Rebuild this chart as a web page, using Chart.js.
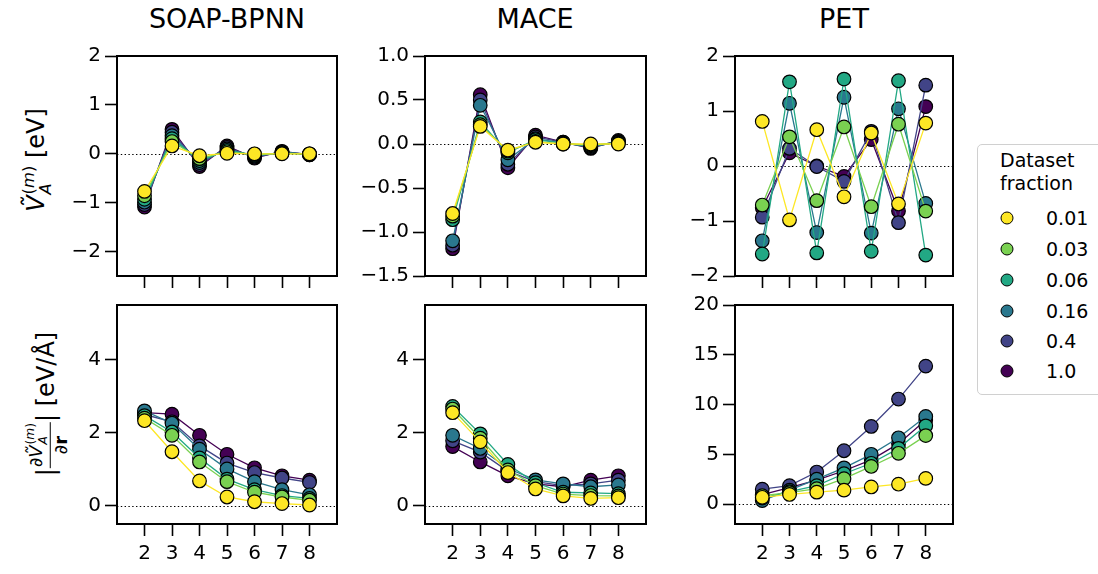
<!DOCTYPE html>
<html>
<head>
<meta charset="utf-8">
<script src="https://cdn.jsdelivr.net/npm/chart.js@4/dist/chart.umd.min.js"></script>
<style>
  body { margin: 0; background: #fff; width: 1098px; height: 574px; position: relative; overflow: hidden;
         font-family: "DejaVu Sans", sans-serif; color: #000; }
  canvas { position: absolute; }
  .title { position: absolute; top: 3px; font-size: 27px; transform: translateX(-50%); white-space: nowrap; }
  .ylab { position: absolute; transform: translate(-50%, -50%) rotate(-90deg); white-space: nowrap; font-size: 24px; }
  .ss { display: inline-flex; flex-direction: column; font-size: 0.68em; line-height: 1.05; vertical-align: middle; margin-left: 1px; }
  .frac { display: inline-flex; flex-direction: column; align-items: center; font-size: 0.75em; vertical-align: middle; line-height: 1.1; }
  .frac .num { border-bottom: 1.4px solid #000; padding: 0 1px; }
  .legend { position: absolute; left: 977px; top: 144px; width: 150px; height: 251px; border: 1.5px solid #d0d0d0;
            border-radius: 5px; box-sizing: border-box; }
  .legtitle { position: absolute; left: 1000px; top: 149px; font-size: 19px; line-height: 23px; }
  .legitem { position: absolute; left: 1046px; font-size: 19px; transform: translateY(-50%); }
  .legdot { position: absolute; width: 13px; height: 13px; border-radius: 50%; border: 1.3px solid #000; box-sizing: border-box;
            transform: translate(-50%, -50%); }
</style>
</head>
<body>

<div class="title" style="left:227px">SOAP-BPNN</div>
<div class="title" style="left:535px">MACE</div>
<div class="title" style="left:844px">PET</div>

<div class="ylab" style="left:37px; top:160px"><i>Ṽ</i><span class="ss"><span>(<i>m</i>)</span><span><i>A</i></span></span> [eV]</div>
<div class="ylab" style="left:47px; top:404px">|<span class="frac"><span class="num">∂<i>Ṽ</i><span class="ss"><span>(<i>m</i>)</span><span><i>A</i></span></span></span><span>∂<b>r</b></span></span>| [eV/Å]</div>

<div class="legend"></div>
<div class="legtitle">Dataset<br>fraction</div>
<div id="legendItems"></div>

<script>
// x positions: step index m
const steps = [2, 3, 4, 5, 6, 7, 8];
const fractions = ['0.01', '0.03', '0.06', '0.16', '0.4', '1.0'];
const colors = ['#fde725', '#7ad151', '#22a884', '#2a788e', '#414487', '#440154'];

// energies, one row per dataset fraction (same order as fractions)
const soapEnergy = [
  [-0.77, 0.16, -0.04, 0.01, 0.00, 0.00, 0.00],
  [-0.86, 0.25, -0.10, 0.04, -0.01, 0.01, 0.00],
  [-0.93, 0.31, -0.14, 0.07, -0.03, 0.02, -0.01],
  [-0.99, 0.37, -0.18, 0.10, -0.05, 0.03, -0.01],
  [-1.04, 0.44, -0.22, 0.13, -0.07, 0.04, -0.02],
  [-1.09, 0.50, -0.26, 0.16, -0.09, 0.05, -0.02]
];
const maceEnergy = [
  [-0.79, 0.20, -0.07, 0.02, 0.00, 0.00, 0.00],
  [-0.82, 0.22, -0.08, 0.03, 0.00, -0.01, 0.01],
  [-0.86, 0.25, -0.10, 0.05, 0.01, -0.02, 0.02],
  [-1.10, 0.44, -0.18, 0.06, 0.01, -0.03, 0.02],
  [-1.15, 0.50, -0.23, 0.08, 0.02, -0.04, 0.03],
  [-1.19, 0.56, -0.27, 0.10, 0.02, -0.05, 0.04]
];
const petEnergy = [
  [0.81, -0.98, 0.66, -0.56, 0.60, -0.69, 0.78],
  [-0.71, 0.53, -0.63, 0.71, -0.74, 0.76, -0.82],
  [-1.60, 1.53, -1.58, 1.58, -1.55, 1.55, -1.62],
  [-1.36, 1.14, -1.21, 1.25, -1.22, 1.04, -0.68],
  [-0.93, 0.32, -0.01, -0.28, 0.63, -1.03, 1.47],
  [-0.76, 0.24, 0.00, -0.19, 0.48, -0.82, 1.08]
];

// force magnitudes
const soapForce = [
  [2.33, 1.48, 0.68, 0.24, 0.11, 0.06, 0.02],
  [2.40, 1.93, 1.20, 0.66, 0.37, 0.24, 0.15],
  [2.47, 2.02, 1.31, 0.73, 0.44, 0.28, 0.20],
  [2.60, 2.26, 1.55, 1.01, 0.66, 0.44, 0.30],
  [2.50, 2.30, 1.64, 1.17, 0.91, 0.76, 0.64],
  [2.55, 2.51, 1.93, 1.41, 1.04, 0.82, 0.70]
];
const maceForce = [
  [2.55, 1.75, 0.91, 0.46, 0.27, 0.20, 0.22],
  [2.65, 1.85, 0.98, 0.55, 0.32, 0.28, 0.27],
  [2.72, 1.97, 1.13, 0.63, 0.37, 0.35, 0.33],
  [1.93, 1.57, 1.02, 0.71, 0.60, 0.52, 0.57],
  [1.78, 1.47, 0.95, 0.66, 0.55, 0.60, 0.70],
  [1.62, 1.20, 0.82, 0.60, 0.52, 0.70, 0.82]
];
const petForce = [
  [0.68, 0.97, 1.20, 1.40, 1.72, 2.00, 2.58],
  [0.85, 1.15, 1.55, 2.55, 3.78, 5.10, 6.88],
  [0.60, 1.25, 1.85, 3.05, 4.10, 5.60, 7.86],
  [0.35, 1.40, 2.50, 3.64, 5.00, 6.66, 8.80],
  [1.50, 1.85, 3.22, 5.36, 7.80, 10.55, 13.86],
  [0.95, 1.65, 2.40, 3.35, 4.45, 6.07, 8.45]
];

// y tick values per panel
const ticksEnergySoap = [-2, -1, 0, 1, 2];
const ticksEnergyMace = [-1.5, -1.0, -0.5, 0.0, 0.5, 1.0];
const ticksEnergyPet = [-2, -1, 0, 1, 2];
const ticksForce = [0, 2, 4];
const ticksForcePet = [0, 5, 10, 15, 20];

const FONT = 'DejaVu Sans';
const colLeft = [117, 425, 735];
const colWidth = [220, 221, 218];
const rowTop = [50, 299];
const rowHeight = [226, 225];
const padL = 100, padT = 10, padR = 10, padB = 50;

// frame around the plot area and dotted zero line
const framePlugin = {
  id: 'frame',
  beforeDatasetsDraw(chart) {
    const { ctx, chartArea: a, scales } = chart;
    const y0 = Math.round(scales.y.getPixelForValue(0)) + 0.5;
    ctx.save();
    ctx.strokeStyle = '#000';
    ctx.lineWidth = 1.2;
    ctx.setLineDash([1.4, 2.4]);
    ctx.beginPath();
    ctx.moveTo(a.left, y0);
    ctx.lineTo(a.right, y0);
    ctx.stroke();
    ctx.restore();
  },
  afterDatasetsDraw(chart) {
    const { ctx, chartArea: a } = chart;
    ctx.save();
    ctx.strokeStyle = '#000';
    ctx.lineWidth = 2;
    ctx.strokeRect(a.left, a.top, a.right - a.left, a.bottom - a.top);
    ctx.restore();
  }
};

function fmt(v, dec) {
  const s = Math.abs(v).toFixed(dec);
  return v < 0 ? '\u2212' + s : s;
}

function makePanel(row, col, series, yMin, yMax, yTicks, dec) {
  const canvas = document.createElement('canvas');
  const w = padL + colWidth[col] + padR;
  const h = padT + rowHeight[row] + padB;
  canvas.width = w;
  canvas.height = h;
  canvas.style.left = (colLeft[col] - padL) + 'px';
  canvas.style.top = (rowTop[row] - padT) + 'px';
  document.body.appendChild(canvas);

  const datasets = series.map((vals, i) => ({
    label: fractions[i],
    data: steps.map((x, j) => ({ x: x, y: vals[j] })),
    borderColor: colors[i],
    backgroundColor: colors[i],
    borderWidth: 1.3,
    pointRadius: 6.8,
    pointBorderWidth: 1.2,
    pointBorderColor: '#000',
    pointBackgroundColor: colors[i],
    tension: 0,
    clip: false
  }));

  const gridOpts = { drawOnChartArea: false, drawTicks: true, tickLength: 12, tickWidth: 1.6, tickColor: '#000' };

  new Chart(canvas, {
    type: 'line',
    data: { datasets },
    options: {
      responsive: false,
      animation: false,
      devicePixelRatio: 1,
      layout: { padding: { left: 0, top: padT, right: padR, bottom: 0 } },
      plugins: { legend: { display: false }, tooltip: { enabled: false } },
      scales: {
        x: {
          type: 'linear', min: 1, max: 9,
          afterBuildTicks: s => { s.ticks = steps.map(v => ({ value: v })); },
          afterFit: s => { s.height = padB; },
          grid: gridOpts,
          border: { display: false },
          ticks: {
            color: '#000', font: { family: FONT, size: 20 }, padding: 6,
            maxRotation: 0, autoSkip: false,
            callback: v => row === 1 ? String(v) : ''
          }
        },
        y: {
          min: yMin, max: yMax,
          afterBuildTicks: s => { s.ticks = yTicks.map(v => ({ value: v })); },
          afterFit: s => { s.width = padL; },
          grid: gridOpts,
          border: { display: false },
          ticks: {
            color: '#000', font: { family: FONT, size: 20 }, padding: 4, autoSkip: false,
            callback: v => fmt(v, dec)
          }
        }
      }
    },
    plugins: [framePlugin]
  });
}

makePanel(0, 0, soapEnergy, -2.5, 2, ticksEnergySoap, 0);
makePanel(0, 1, maceEnergy, -1.5, 1.0, ticksEnergyMace, 1);
makePanel(0, 2, petEnergy, -2, 2, ticksEnergyPet, 0);
makePanel(1, 0, soapForce, -0.5, 5.5, ticksForce, 0);
makePanel(1, 1, maceForce, -0.5, 5.5, ticksForce, 0);
makePanel(1, 2, petForce, -2, 20, ticksForcePet, 0);

// legend entries
const legendY = [218, 249, 280, 311, 341, 371];
const holder = document.getElementById('legendItems');
fractions.forEach((f, i) => {
  const dot = document.createElement('div');
  dot.className = 'legdot';
  dot.style.left = '1007px';
  dot.style.top = legendY[i] + 'px';
  dot.style.background = colors[i];
  holder.appendChild(dot);
  const txt = document.createElement('div');
  txt.className = 'legitem';
  txt.style.top = legendY[i] + 'px';
  txt.textContent = f;
  holder.appendChild(txt);
});
</script>
</body>
</html>
